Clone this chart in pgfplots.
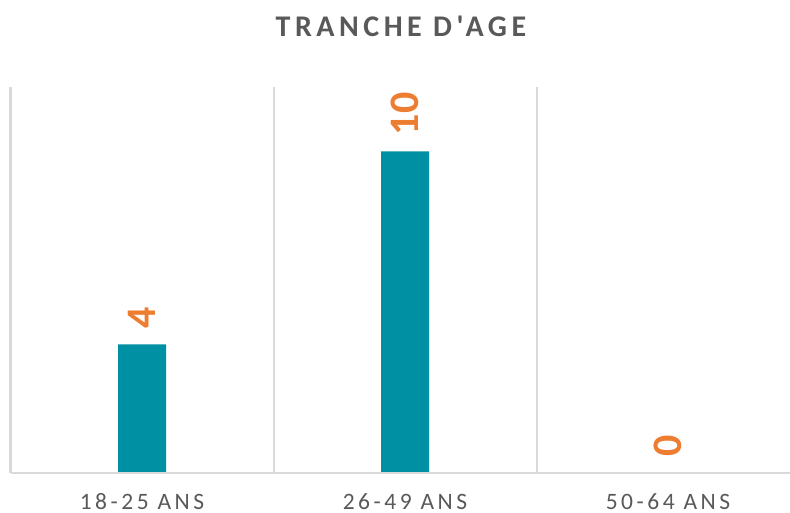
\documentclass[border=0pt]{standalone}
\usepackage{fontspec}
\setmainfont{Carlito}
\newfontfamily\spacedfont[LetterSpace=15]{Carlito}
\usepackage{pgfplots}
\pgfplotsset{compat=1.18}
\definecolor{barteal}{HTML}{0090A4}
\definecolor{lblorange}{HTML}{ED7D31}
\definecolor{txtgray}{HTML}{595959}
\definecolor{gridgray}{HTML}{D9D9D9}
\begin{document}
\begin{tikzpicture}
\begin{axis}[
  at={(142bp,40bp)}, anchor=origin,
  width=789bp, height=386bp, scale only axis,
  xmin=-0.5, xmax=2.5, ymin=0, ymax=12,
  axis x line*=bottom, axis y line=none,
  x axis line style={gridgray, line width=2bp, -},
  xtick={0,1,2}, xticklabels={18-25 ANS, 26-49 ANS, 50-64 ANS},
  major tick length=0pt, minor tick length=0pt,
  minor xtick={-0.5,0.5,1.5,2.5}, xminorgrids,
  minor x grid style={gridgray, line width=2bp},
  ytick=\empty,
  axis on top,
  xticklabel style={font=\fontsize{23.5bp}{23.5bp}\spacedfont, text=txtgray, anchor=base, inner sep=0pt, yshift=-36.5bp},
  ybar, bar width=48bp,
  nodes near coords={\pgfmathprintnumber[assume math mode=true]{\pgfplotspointmeta}},
  every node near coord/.append style={font=\fontsize{42bp}{42bp}\selectfont\bfseries, text=lblorange, rotate=90, anchor=west, inner sep=0pt, xshift=16bp},
  clip=false,
]
\addplot[fill=barteal, draw=none] coordinates {(0,4) (1,10) (2,0)};
\end{axis}
\node[anchor=base, inner sep=0pt, text=txtgray, font=\fontsize{30bp}{30bp}\bfseries\spacedfont] at (401bp,476bp) {TRANCHE D'AGE};
\pgfresetboundingbox
\useasboundingbox (0bp,0bp) rectangle (790bp,513bp);
\end{tikzpicture}
\end{document}
